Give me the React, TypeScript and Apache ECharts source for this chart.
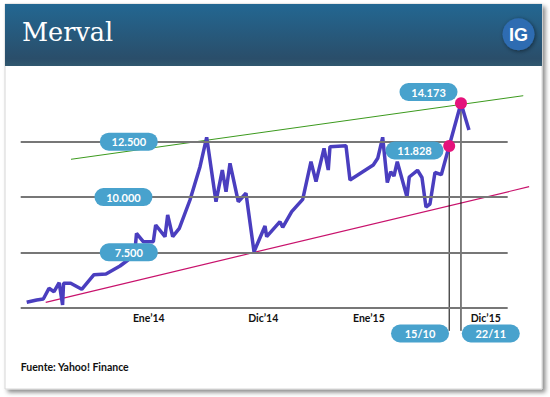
import React, { useEffect, useRef } from "react";
import * as echarts from "echarts";

// Timeline position (0–100 across the plotted period) and Merval index values
const positions = [
  1.23, 3.29, 4.64, 5.81, 6.84, 7.9, 8.6, 8.8, 10.27, 12.53, 15.05, 17.51, 20.39,
  22.03, 23.57, 23.78, 25.17, 27.23, 27.72, 29.63, 30.18, 31.21, 32.57, 34.76,
  36.82, 38.19, 40.1, 41.4, 42.16, 42.98, 44.68, 46.26, 47.91, 50.17, 50.51,
  53.24, 53.8, 55.65, 57.91, 59.61, 60.64, 62.29, 63.16, 63.51, 66.8, 67.62,
  72.4, 73.31, 74.33, 75.28, 75.98, 76.65, 77.33, 79.32, 79.79, 81.48, 82.4,
  83.22, 84.04, 85.07, 86.37, 87.99, 90.41, 92.05,
];
const merval = [
  5244, 5348, 5393, 5876, 5723, 6130, 5122, 6102, 6102, 5831, 6491, 6523, 6884,
  7155, 7833, 8361, 7982, 7982, 8736, 8208, 9188, 8208, 8587, 9866,
  11370, 12699, 9789, 11221, 10241, 11524, 9789, 10169, 7530, 8691, 8208,
  8885, 8632, 9337, 9898, 11596, 10693, 12202, 11221, 12274, 12319, 10769,
  11447, 11750, 12699, 10657, 11144, 10950, 11596, 10001, 10905, 11208, 10882,
  9550, 9685, 11108, 11009, 12306, 14235, 13029,
];

// Trend channel lines (start / end)
const resistanceX = [10.33, 103.2];
const resistanceY = [11705, 14578];
const supportX = [5.13, 104.4];
const supportY = [5244, 10467];

// Axis labels
const tickLabels = ["Ene\u201914", "Dic\u201914", "Ene\u201915", "Dic\u201915"];
const tickPositions = [26.3, 49.8, 71.5, 95.5];

// Reference levels (gridlines)
const gridLevels = [5000, 7500, 10000, 12500];
const levelValues = [12500, 10000, 7500];
const levelLabels = ["12.500", "10.000", "7.500"];

// Highlighted points (indices in the series)
const highlightIndex = [61, 62];
const highlightValueLabels = ["11.828", "14.173"];
const highlightDates = ["15/10", "22/11"];

const PILL = "path://M9,0 H49 A9,9 0 0 1 49,18 H9 A9,9 0 0 1 9,0 Z";

export default function App() {
  const ref = useRef<HTMLDivElement>(null);
  useEffect(() => {
    if (!ref.current) return;
    const chart = echarts.init(ref.current, undefined, { renderer: "svg" });

    const lineData = positions.map((x, i) => [x, merval[i]]);
    const hlPts = highlightIndex.map((i) => [positions[i], merval[i]]);
    const belowAxis = 3834;
    const xStart = 0;
    const xEnd = 100;

    // pill annotation layout
    const levelPillX = [22.2, 21.1, 22.2];
    const pillData: any[] = [];
    levelValues.forEach((v, i) =>
      pillData.push({ value: [levelPillX[i], v], name: levelLabels[i] })
    );
    pillData.push({ value: [80.86, 12102], name: highlightValueLabels[0] });
    pillData.push({ value: [83.74, 14745], name: highlightValueLabels[1] });
    pillData.push({ value: [82.0, belowAxis], name: highlightDates[0] });
    pillData.push({ value: [96.53, belowAxis], name: highlightDates[1] });

    const option: any = {
      animation: false,
      title: {
        text: "Merval",
        left: 22,
        top: 19,
        padding: 0,
        textStyle: {
          color: "#ffffff",
          fontSize: 25.5,
          fontWeight: "normal",
          fontFamily: "DejaVu Serif",
        },
        z: 20,
      },
      grid: { left: 20.7, right: 13.1, top: 141.7, bottom: 89.3 },
      xAxis: {
        type: "value",
        min: 0,
        max: 106,
        axisLine: { show: false },
        axisTick: { show: false },
        splitLine: { show: false },
        axisLabel: {
          customValues: tickPositions,
          margin: 5,
          color: "#111111",
          fontFamily: "Lato",
          fontWeight: "bold",
          fontSize: 10.5,
          formatter: (v: number) => {
            const i = tickPositions.findIndex((p) => Math.abs(p - v) < 0.01);
            return i >= 0 ? tickLabels[i] : "";
          },
        },
      },
      yAxis: {
        type: "value",
        min: 5000,
        max: 12500,
        interval: 2500,
        axisLine: { show: false },
        axisTick: { show: false },
        axisLabel: { show: false },
        splitLine: { show: false },
      },
      graphic: [
        {
          type: "rect",
          z: -10,
          shape: { x: 5, y: 4, width: 537, height: 385 },
          style: {
            fill: "#ffffff",
            stroke: "#d6d6d6",
            lineWidth: 1,
            shadowBlur: 4,
            shadowOffsetX: 3,
            shadowOffsetY: 3,
            shadowColor: "rgba(0,0,0,0.45)",
          },
        },
        {
          type: "rect",
          z: -9,
          shape: { x: 5, y: 4, width: 537, height: 62 },
          style: {
            fill: new echarts.graphic.LinearGradient(0, 0, 0, 1, [
              { offset: 0, color: "#236792" },
              { offset: 0.88, color: "#2a4e6a" },
              { offset: 1, color: "#30586f" },
            ]),
          },
        },
        {
          type: "circle",
          z: 10,
          shape: { cx: 518.5, cy: 34.3, r: 16 },
          style: {
            fill: "#2f6cb2",
            shadowBlur: 4,
            shadowOffsetX: 1,
            shadowOffsetY: 1,
            shadowColor: "rgba(0,0,0,0.5)",
          },
        },
        {
          type: "text",
          z: 11,
          x: 518.5,
          y: 35,
          style: {
            text: "IG",
            fill: "#ffffff",
            font: "bold 18px 'Liberation Sans'",
            align: "center",
            verticalAlign: "middle",
          },
        },
        {
          type: "text",
          z: 11,
          x: 20.7,
          y: 367,
          style: {
            text: "Fuente: Yahoo! Finance",
            fill: "#111111",
            font: "bold 10.5px Lato",
            verticalAlign: "middle",
          },
        },
      ],
      series: [
        {
          type: "line",
          data: [],
          symbol: "none",
          z: 1,
          silent: true,
          markLine: {
            silent: true,
            symbol: "none",
            label: { show: false },
            lineStyle: { color: "#777777", width: 2, type: "solid" },
            data: gridLevels.map((v) => [
              { coord: [xStart, v] },
              { coord: [xEnd, v] },
            ]),
          },
        },
        {
          type: "line",
          data: [
            [resistanceX[0], resistanceY[0]],
            [resistanceX[1], resistanceY[1]],
          ],
          symbol: "none",
          clip: false,
          z: 2,
          lineStyle: { color: "#3c9a1e", width: 1 },
          silent: true,
        },
        {
          type: "line",
          data: [
            [supportX[0], supportY[0]],
            [supportX[1], supportY[1]],
          ],
          symbol: "none",
          clip: false,
          z: 2,
          lineStyle: { color: "#c8126c", width: 1.2 },
          silent: true,
        },
        ...hlPts.map((p) => ({
          type: "line",
          data: [p, [p[0], belowAxis + 120]],
          symbol: "none",
          clip: false,
          z: 2,
          lineStyle: { color: "#000000", width: 1 },
          silent: true,
        })),
        {
          type: "line",
          data: lineData,
          symbol: "none",
          showSymbol: false,
          clip: false,
          z: 3,
          lineStyle: { color: "#4a3ebf", width: 3.5 },
          silent: true,
        },
        {
          type: "scatter",
          data: hlPts,
          symbolSize: 12,
          clip: false,
          z: 5,
          itemStyle: { color: "#e5137b", opacity: 1 },
          silent: true,
        },
        {
          type: "scatter",
          data: pillData,
          symbol: PILL,
          symbolSize: [58, 18],
          clip: false,
          z: 6,
          itemStyle: { color: "#48a2cd", opacity: 1 },
          label: {
            show: true,
            position: "inside",
            formatter: "{b}",
            color: "#ffffff",
            fontFamily: "Lato",
            fontWeight: "bold",
            fontSize: 11,
          },
          silent: true,
        },
      ],
    };
    chart.setOption(option);
    return () => chart.dispose();
  }, []);
  return (
    <div
      ref={ref}
      style={{ position: "absolute", left: 0, top: 0, width: 550, height: 397 }}
    />
  );
}
